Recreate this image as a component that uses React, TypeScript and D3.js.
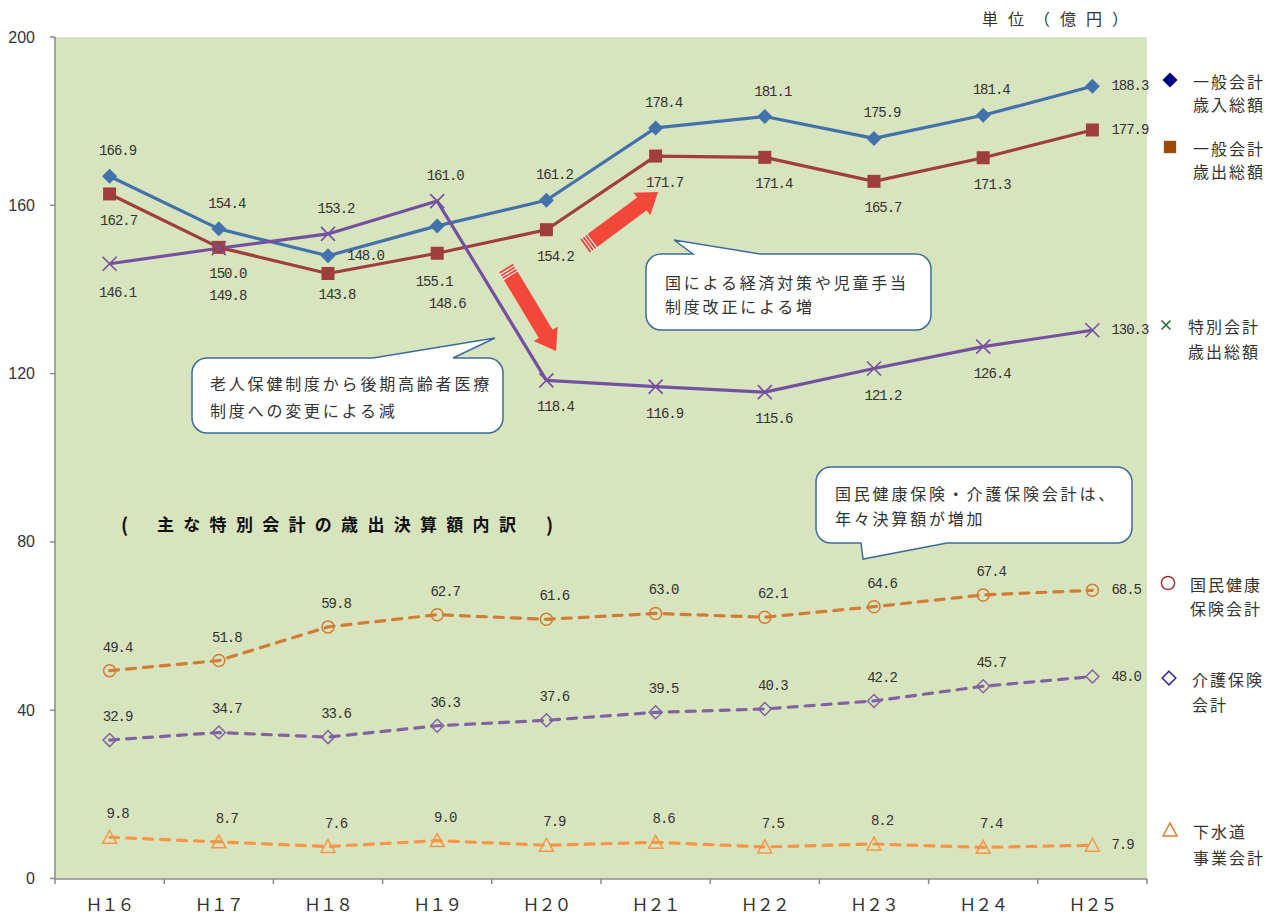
import React from "react";
import * as d3 from "d3";

// 年度
const categories = ["Ｈ１６", "Ｈ１７", "Ｈ１８", "Ｈ１９", "Ｈ２０", "Ｈ２１", "Ｈ２２", "Ｈ２３", "Ｈ２４", "Ｈ２５"];
const yTicks = [0, 40, 80, 120, 160, 200];

// 億円
const generalRevenue = [166.9, 154.4, 148.0, 155.1, 161.2, 178.4, 181.1, 175.9, 181.4, 188.3];
const generalExpense = [162.7, 150.0, 143.8, 148.6, 154.2, 171.7, 171.4, 165.7, 171.3, 177.9];
const specialExpense = [146.1, 149.8, 153.2, 161.0, 118.4, 116.9, 115.6, 121.2, 126.4, 130.3];
const nationalHealth = [49.4, 51.8, 59.8, 62.7, 61.6, 63.0, 62.1, 64.6, 67.4, 68.5];
const careInsurance = [32.9, 34.7, 33.6, 36.3, 37.6, 39.5, 40.3, 42.2, 45.7, 48.0];
const sewerage = [9.8, 8.7, 7.6, 9.0, 7.9, 8.6, 7.5, 8.2, 7.4, 7.9];

// label placement: t = above, b = below, r = right
const revenuePos = ["t", "t", "r", "b", "t", "t", "t", "t", "t", "r"];
const expensePos = ["b", "b", "b", "b", "b", "b", "b", "b", "b", "r"];
const specialPos = ["b", "b", "t", "t", "b", "b", "b", "b", "b", "r"];
const lowerPos = ["t", "t", "t", "t", "t", "t", "t", "t", "t", "r"];
// hand-moved labels (offset from point)
const labelNudge: Record<string, [number, number]> = {
  "0-3": [-3, 56],
  "1-3": [10, 51],
  "2-0": [8, 29],
  "2-1": [9, 48],
  "1-2": [9, 22],
};

const JP = "'Noto Sans CJK JP', sans-serif";
const NUM = "'Liberation Mono', monospace";
const TXT = "#333";

const diamond = (cx: number, cy: number, r: number) =>
  `M${cx},${cy - r}L${cx + r},${cy}L${cx},${cy + r}L${cx - r},${cy}Z`;
const triangle = (cx: number, cy: number, r: number) =>
  `M${cx},${cy - r}L${cx + r},${cy + r * 0.85}L${cx - r},${cy + r * 0.85}Z`;

function arrowShape(x1: number, y1: number, x2: number, y2: number, sw: number, hw: number, hl: number) {
  const L = Math.hypot(x2 - x1, y2 - y1);
  const ux = (x2 - x1) / L, uy = (y2 - y1) / L;
  const px = -uy, py = ux;
  const bx = x2 - ux * hl, by = y2 - uy * hl;
  const pts = [
    [x1 + px * sw / 2, y1 + py * sw / 2],
    [bx + px * sw / 2, by + py * sw / 2],
    [bx + px * hw / 2, by + py * hw / 2],
    [x2, y2],
    [bx - px * hw / 2, by - py * hw / 2],
    [bx - px * sw / 2, by - py * sw / 2],
    [x1 - px * sw / 2, y1 - py * sw / 2],
  ];
  const stripes = [2.5, 5.5, 8.5].map((t) => {
    const cx = x1 + ux * t, cy = y1 + uy * t;
    return [cx + px * (sw / 2 + 1), cy + py * (sw / 2 + 1), cx - px * (sw / 2 + 1), cy - py * (sw / 2 + 1)];
  });
  return { d: "M" + pts.map((p) => p.join(",")).join("L") + "Z", stripes };
}

function callout(x0: number, y0: number, x1: number, y1: number, r: number, edge: string, a: number, b: number, tx: number, ty: number) {
  const top = edge === "top" ? `L${a},${y0}L${tx},${ty}L${b},${y0}` : "";
  const bottom = edge === "bottom" ? `L${b},${y1}L${tx},${ty}L${a},${y1}` : "";
  return (
    `M${x0 + r},${y0}${top}L${x1 - r},${y0}A${r},${r} 0 0 1 ${x1},${y0 + r}` +
    `L${x1},${y1 - r}A${r},${r} 0 0 1 ${x1 - r},${y1}${bottom}L${x0 + r},${y1}` +
    `A${r},${r} 0 0 1 ${x0},${y1 - r}L${x0},${y0 + r}A${r},${r} 0 0 1 ${x0 + r},${y0}Z`
  );
}

const App = () => {
  const x = d3.scaleBand().domain(categories).range([55, 1147]).padding(0);
  const y = d3.scaleLinear().domain([0, 200]).range([878.5, 37]);
  const cx = (i: number) => (x(categories[i]) as number) + x.bandwidth() / 2;

  const line = d3
    .line<number>()
    .x((_, i) => cx(i))
    .y((d) => y(d));

  const series = [
    { data: generalRevenue, color: "#4271AC", dash: "", pos: revenuePos, marker: "fdiamond" },
    { data: generalExpense, color: "#A03E3D", dash: "", pos: expensePos, marker: "square" },
    { data: specialExpense, color: "#7351A0", dash: "", pos: specialPos, marker: "x" },
    { data: nationalHealth, color: "#D27D36", dash: "9 8", pos: lowerPos, marker: "circle" },
    { data: careInsurance, color: "#8064A2", dash: "9 8", pos: lowerPos, marker: "odiamond" },
    { data: sewerage, color: "#F79646", dash: "9 8", pos: lowerPos, marker: "triangle" },
  ];

  const marker = (kind: string, px: number, py: number, color: string, key: string, s = 1) => {
    switch (kind) {
      case "fdiamond":
        return <path key={key} d={diamond(px, py, 7.5 * s)} fill={color} />;
      case "square":
        return <rect key={key} x={px - 6.5 * s} y={py - 6.5 * s} width={13 * s} height={13 * s} fill={color} />;
      case "x": {
        const h = 7 * s;
        return (
          <path key={key} d={`M${px - h},${py - h}L${px + h},${py + h}M${px + h},${py - h}L${px - h},${py + h}`}
            stroke={color} strokeWidth={1.6} />
        );
      }
      case "circle":
        return <circle key={key} cx={px} cy={py} r={6 * s} fill="none" stroke={color} strokeWidth={1.5} />;
      case "odiamond":
        return <path key={key} d={diamond(px, py, 6.5 * s)} fill="none" stroke={color} strokeWidth={1.5} />;
      default:
        return <path key={key} d={triangle(px, py, 7 * s)} fill="none" stroke={color} strokeWidth={1.5} />;
    }
  };

  const labelXY = (pos: string, px: number, py: number, si: number, i: number) => {
    const n = labelNudge[`${si}-${i}`];
    if (n) return { lx: px + n[0], ly: py + n[1], anchor: "middle" };
    if (pos === "r") return { lx: px + 19, ly: py, anchor: "start" };
    if (pos === "t") return { lx: px + 8, ly: py - (si >= 3 ? 23 : 25), anchor: "middle" };
    return { lx: px + 9, ly: py + 27, anchor: "middle" };
  };

  const arrow1 = arrowShape(506, 268, 556, 351, 16, 28, 20);
  const arrow2 = arrowShape(585, 246, 658, 192, 16, 28, 20);

  const legend = [
    { kind: "fdiamond", color: "#000080", mx: 1170, my: 80, tx: 1193, l1: "一般会計", l2: "歳入総額", g: 23, s: 1 },
    { kind: "square", color: "#9C4A06", mx: 1170, my: 147, tx: 1193, l1: "一般会計", l2: "歳出総額", g: 23, s: 0.95 },
    { kind: "x", color: "#2F6B33", mx: 1166, my: 325, tx: 1188, l1: "特別会計", l2: "歳出総額", g: 25, s: 0.65 },
    { kind: "circle", color: "#A0332E", mx: 1168, my: 583, tx: 1190, l1: "国民健康", l2: "保険会計", g: 24, s: 1.1 },
    { kind: "odiamond", color: "#2B2BA0", mx: 1169, my: 678, tx: 1192, l1: "介護保険", l2: "会計", g: 25, s: 1.05 },
    { kind: "triangle", color: "#F0752C", mx: 1170, my: 830, tx: 1193, l1: "下水道", l2: "事業会計", g: 26, s: 1 },
  ];

  return (
    <svg width={1283} height={914} style={{ position: "absolute", left: 0, top: 0, background: "#fff" }}>
      <rect x={55} y={37} width={1092} height={841.5} fill="#D7E4BD" />

      {/* axes */}
      <g stroke="#8A8A8A" strokeWidth={1.5}>
        <line x1={55} y1={37} x2={55} y2={879} />
        <line x1={55} y1={879} x2={1147} y2={879} />
        {yTicks.map((t) => (
          <line key={t} x1={50} x2={55} y1={y(t)} y2={y(t)} />
        ))}
        {categories.concat([""]).map((c, i) => (
          <line key={i} x1={55 + i * x.bandwidth()} x2={55 + i * x.bandwidth()} y1={879} y2={884} />
        ))}
      </g>
      {yTicks.map((t) => (
        <text key={t} x={35} y={y(t)} textAnchor="end" dominantBaseline="central"
          fontFamily="'Liberation Sans', Arial, sans-serif" fontSize={16} fill={TXT}>
          {t}
        </text>
      ))}
      {categories.map((c, i) => (
        <text key={c} x={cx(i)} y={903} textAnchor="middle" dominantBaseline="central"
          fontFamily={JP} fontSize={17} letterSpacing={-1} fill={TXT}>
          {c}
        </text>
      ))}

      <text x={982} y={18} dominantBaseline="central" fontFamily={JP} fontSize={16} letterSpacing={10} fill={TXT}>
        単位（億円）
      </text>

      {/* lines */}
      {series.map((s, si) => (
        <path key={si} d={line(s.data) as string} fill="none" stroke={s.color} strokeWidth={3.2}
          strokeDasharray={s.dash || undefined} strokeLinecap={s.dash ? "round" : "butt"} strokeLinejoin="round" />
      ))}
      {series.map((s, si) => s.data.map((v, i) => marker(s.marker, cx(i), y(v), s.color, `m${si}-${i}`)))}

      {/* data labels */}
      {series.map((s, si) =>
        s.data.map((v, i) => {
          const { lx, ly, anchor } = labelXY(s.pos[i], cx(i), y(v), si, i);
          return (
            <text key={`l${si}-${i}`} x={lx} y={ly} textAnchor={anchor} dominantBaseline="central"
              fontFamily={NUM} fontSize={14} letterSpacing={-1} fill={TXT}>
              {v.toFixed(1)}
            </text>
          );
        })
      )}

      {/* red arrows */}
      {[arrow1, arrow2].map((a, k) => (
        <g key={k}>
          <path d={a.d} fill="#F4473B" />
          {a.stripes.map((s, j) => (
            <line key={j} x1={s[0]} y1={s[1]} x2={s[2]} y2={s[3]} stroke="#fff" strokeWidth={1.1} />
          ))}
        </g>
      ))}

      {/* callouts */}
      <g fill="#fff" stroke="#3F6B9C" strokeWidth={1.5}>
        <path d={callout(646, 254, 931, 330, 15, "top", 693, 760, 674, 240)} />
        <path d={callout(192, 358, 503, 433, 15, "top", 373, 453, 495, 338)} />
        <path d={callout(816, 467, 1132, 543, 15, "bottom", 861, 947, 863, 559)} />
      </g>
      <g fontFamily={JP} fontSize={16} letterSpacing={2.8} fill={TXT} dominantBaseline="central">
        <text x={665} y={282}>国による経済対策や児童手当</text>
        <text x={665} y={306}>制度改正による増</text>
        <text x={210} y={383}>老人保健制度から後期高齢者医療</text>
        <text x={210} y={410}>制度への変更による減</text>
        <text x={835} y={493}>国民健康保険・介護保険会計は、</text>
        <text x={835} y={518}>年々決算額が増加</text>
      </g>

      {/* section title */}
      <g fontFamily={JP} fontWeight="bold" fill="#111" dominantBaseline="central">
        <text x={121} y={523} fontSize={19}>(</text>
        <text x={157} y={523} fontSize={17} letterSpacing={9.3}>主な特別会計の歳出決算額内訳</text>
        <text x={546} y={523} fontSize={19}>)</text>
      </g>

      {/* legend */}
      {legend.map((l, k) => (
        <g key={k}>
          {marker(l.kind, l.mx, l.my, l.color, `lg${k}`, l.s)}
          <text x={l.tx} y={l.my + 1} dominantBaseline="central" fontFamily={JP} fontSize={16} letterSpacing={2} fill={TXT}>
            {l.l1}
          </text>
          <text x={l.tx} y={l.my + 1 + l.g} dominantBaseline="central" fontFamily={JP} fontSize={16} letterSpacing={2} fill={TXT}>
            {l.l2}
          </text>
        </g>
      ))}
    </svg>
  );
};

export default App;
